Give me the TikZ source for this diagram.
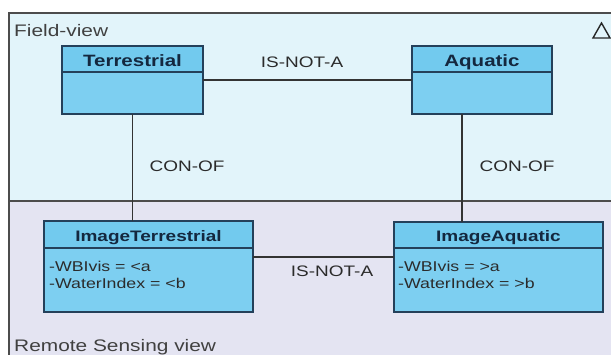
\documentclass[tikz,border=0pt]{standalone}
\usepackage{fontspec}
\setmainfont{Liberation Sans}[FakeStretch=1.25]
\definecolor{topbg}{HTML}{E2F4FA}
\definecolor{botbg}{HTML}{E4E4F2}
\definecolor{boxfill}{HTML}{7DCFF1}
\definecolor{headfill}{HTML}{72CAEE}
\definecolor{boxline}{HTML}{24405A}
\definecolor{txt}{HTML}{2B2B2B}
\definecolor{headtxt}{HTML}{14283F}
\begin{document}
\begin{tikzpicture}[x=1pt,y=-1pt,
  classbox/.style={draw=boxline, line width=1.4pt, fill=boxfill, inner sep=0pt, outer sep=0pt},
  headtext/.style={anchor=base, inner sep=0pt, text=headtxt, font=\bfseries\fontsize{16.4}{18}\selectfont},
  headtextsm/.style={anchor=base, inner sep=0pt, text=headtxt, font=\bfseries\fontsize{15.2}{18}\selectfont},
  lbl/.style={anchor=base, inner sep=0pt, text=txt, font=\fontsize{15.2}{18}\selectfont},
  attr/.style={anchor=base west, inner sep=0pt, text=txt, font=\fontsize{14.2}{18}\selectfont},
  viewtxt/.style={anchor=base west, inner sep=0pt, text=txt!90, font=\fontsize{16.7}{20}\selectfont},
  conn/.style={draw=black!80, line width=1.3pt},
  frameline/.style={draw=black!70, line width=1.2pt}]
\useasboundingbox (0,0) rectangle (611,355);
\fill[white] (0,0) rectangle (611,355);
% view regions
\fill[topbg] (9,13) rectangle (611,201);
\fill[botbg] (9,201) rectangle (611,355);
\draw[frameline] (611,13) -- (9,13) -- (9,355);
\draw[frameline] (9,201) -- (611,201);
\node[viewtxt] (fv) at (14,37) {Field-view};
\node[viewtxt] (rsv) at (14,352) {Remote Sensing view};
\draw[line width=1.4pt, draw=black!85, line join=miter] (593,38) -- (610,38) -- (601.5,23) -- cycle;
% class boxes
\node[classbox, minimum width=141pt, minimum height=68pt] (terr) at (132.5,80) {};
\node[classbox, minimum width=140pt, minimum height=68pt] (aqua) at (482,80) {};
\node[classbox, minimum width=209pt, minimum height=91pt] (iterr) at (148.5,266.5) {};
\node[classbox, minimum width=209pt, minimum height=90pt] (iaqua) at (498.5,267) {};
% header compartments
\fill[headfill] ([shift={(0.7pt,-0.7pt)}]terr.north west) rectangle ([xshift=-0.7pt]terr.east |- 0,72);
\fill[headfill] ([shift={(0.7pt,-0.7pt)}]aqua.north west) rectangle ([xshift=-0.7pt]aqua.east |- 0,72);
\fill[headfill] ([shift={(0.7pt,-0.7pt)}]iterr.north west) rectangle ([xshift=-0.7pt]iterr.east |- 0,248);
\fill[headfill] ([shift={(0.7pt,-0.7pt)}]iaqua.north west) rectangle ([xshift=-0.7pt]iaqua.east |- 0,248);
\draw[draw=boxline, line width=1.2pt] (terr.west |- 0,72) -- (terr.east |- 0,72);
\draw[draw=boxline, line width=1.2pt] (aqua.west |- 0,72) -- (aqua.east |- 0,72);
\draw[draw=boxline, line width=1.2pt] (iterr.west |- 0,248) -- (iterr.east |- 0,248);
\draw[draw=boxline, line width=1.2pt] (iaqua.west |- 0,248) -- (iaqua.east |- 0,248);
% header texts
\node[headtext] (terrT) at (132.5,67) {Terrestrial};
\node[headtext] (aquaT) at (482,66.5) {Aquatic};
\node[headtextsm] (iterrT) at (148.5,241.5) {ImageTerrestrial};
\node[headtextsm] (iaquaT) at (498.5,241.5) {ImageAquatic};
% attributes
\node[attr] (a1) at (49,272) {-WBIvis = <a};
\node[attr] (a2) at (49,288.5) {-WaterIndex = <b};
\node[attr] (a3) at (398,272) {-WBIvis = >a};
\node[attr] (a4) at (398,288.5) {-WaterIndex = >b};
% connectors
\draw[conn] (terr.east) -- (aqua.west);
\draw[conn] (terr.south) -- (terr.south |- iterr.north);
\draw[conn] ([xshift=-20pt]aqua.south) -- ([xshift=-20pt]aqua.south |- iaqua.north);
\draw[conn] ([yshift=9.5pt]iterr.east) -- ([yshift=9.5pt]iterr.east -| iaqua.west);
% connector labels
\node[lbl] (l1) at (302,67.5) {IS-NOT-A};
\node[lbl] (l2) at (187,171.5) {CON-OF};
\node[lbl] (l3) at (517,171.5) {CON-OF};
\node[lbl] (l4) at (332,277) {IS-NOT-A};
\end{tikzpicture}
\end{document}
